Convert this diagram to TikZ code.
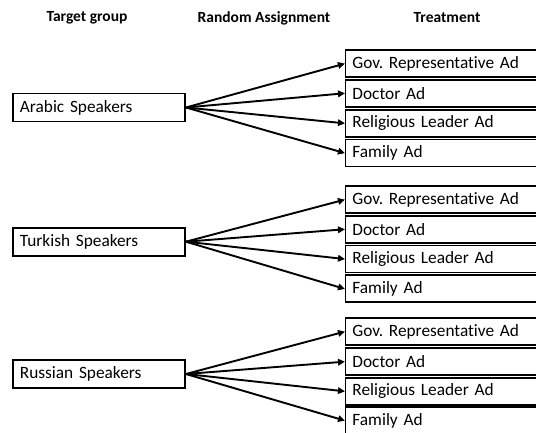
\documentclass[tikz,border=0pt]{standalone}
\usepackage{fontspec}
\setmainfont{Carlito}[Ligatures=NoCommon]
\usetikzlibrary{arrows.meta}
\begin{document}
\frenchspacing
\begin{tikzpicture}[x=1pt,y=-1pt,
  hdr/.style={font=\bfseries\fontsize{15.5}{18}\selectfont, anchor=center},
  srcbox/.style={draw, line width=1.9pt, anchor=west, minimum width=172pt, minimum height=28pt,
     text width=158pt, inner xsep=7pt, inner ysep=0pt, align=left, font=\fontsize{17.3}{19}\selectfont},
  trtbox/.style={draw, line width=1.9pt, anchor=west, minimum width=230pt, minimum height=27pt,
     text width=216pt, inner xsep=7pt, inner ysep=0pt, align=left, font=\fontsize{17.3}{19}\selectfont},
  arr/.style={line width=1.9pt, -{Triangle[length=7pt,width=6.5pt]}, shorten >=-0.5pt}
]
\clip (0,0) rectangle (536,433);
\node[hdr] (h1) at (87,18) {Target group};
\node[hdr] (h2) at (264,18) {Random Assignment};
\node[hdr] (h3) at (447,18) {Treatment};

\foreach \g/\src/\sy/\ya/\yb/\yc/\yd in {
  a/Arabic Speakers/107.5/63.7/93.3/123.3/153,
  t/Turkish Speakers/241.7/199.7/229.3/259/288.8,
  r/Russian Speakers/374/331.7/361.7/391.3/420.5}{
  \node[srcbox] (\g s) at (12,\sy) {\src};
  \node[trtbox] (\g 1) at (344.5,\ya) {Gov. Representative Ad};
  \node[trtbox] (\g 2) at (344.5,\yb) {Doctor Ad};
  \node[trtbox] (\g 3) at (344.5,\yc) {Religious Leader Ad};
  \node[trtbox] (\g 4) at (344.5,\yd) {Family Ad};
  \foreach \k in {1,2,3,4}{
    \draw[arr] (\g s.east) -- (\g\k.west);
  }
}
\end{tikzpicture}
\end{document}
